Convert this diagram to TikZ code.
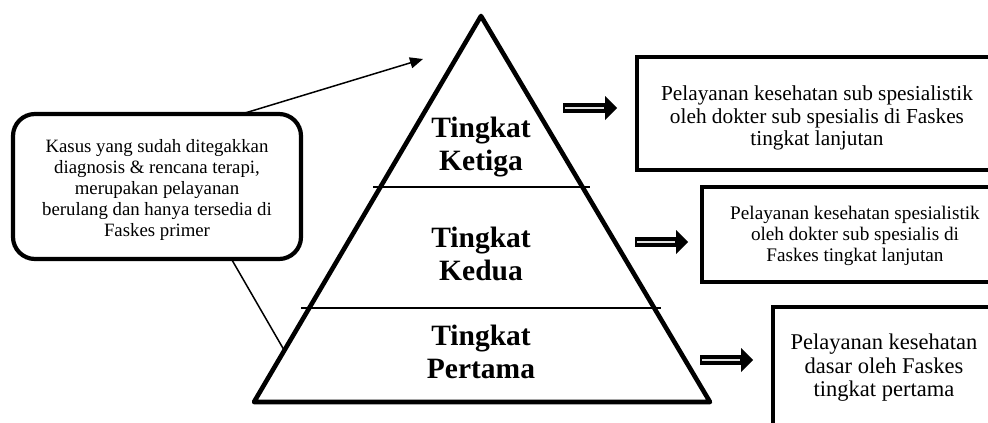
\documentclass[tikz,border=0pt]{standalone}
\usepackage{fontspec}
\setmainfont{Liberation Serif}
\usetikzlibrary{calc,arrows.meta}
\tikzset{
  thickline/.style={line width=4.6pt, line join=round},
  divider/.style={line width=1.6pt},
  tierlabel/.style={font=\fontsize{29.5}{33}\selectfont\bfseries, align=center, inner sep=0pt},
  boxtext/.style={align=center, inner sep=0pt},
  callbox/.style={draw, line width=4.2pt, rounded corners=22pt, minimum width=288pt, minimum height=145pt, inner sep=0pt},
  thinarrow/.style={line width=1.5pt, -{Triangle[length=13pt, width=11pt]}},
  thinline/.style={line width=1.5pt},
}
\newcommand{\fatarrow}[2]{%
  \fill ($(#1)+(0,-4.8)$) rectangle ($(#2)+(-12,4.8)$);
  \fill ($(#2)+(-12,-12)$) -- (#2) -- ($(#2)+(-12,12)$) -- cycle;
  \draw[white!75!gray, line width=1.1pt] ($(#1)+(2,0)$) -- ($(#2)+(-13,0)$);
}
\begin{document}
\begin{tikzpicture}[x=1pt, y=-1pt]
\useasboundingbox (0,0) rectangle (988,423);
\clip (0,0) rectangle (988,423);
\fill[white] (0,0) rectangle (988,423);

% pyramid
\coordinate (apex) at (481,16);
\coordinate (bl) at (254,402);
\coordinate (br) at (710,402);
\draw[thickline] (apex) -- (bl) -- (br) -- cycle;
\draw[divider] (373,187) -- (590,187);
\draw[divider] (301,308) -- (661,308);

\node[tierlabel] (t3) at (481,147) {Tingkat\\Ketiga};
\node[tierlabel] (t2) at (481,254) {Tingkat\\Kedua};
\node[tierlabel] (t1) at (481,352) {Tingkat\\Pertama};

% callout
\node[callbox] (call) at (157,186.5) {};
\node[boxtext, font=\fontsize{18.8}{21}\selectfont] (calltext) at (157,190) {Kasus yang sudah ditegakkan\\diagnosis \& rencana terapi,\\merupakan pelayanan\\berulang dan hanya tersedia di\\Faskes primer};
\coordinate (ctop) at (245,113);
\coordinate (cbot) at (232,260);
\coordinate (atip) at (423,59);
\coordinate (pedge) at (284,350);
\draw[thinarrow] (ctop) -- (atip);
\draw[thinline] (cbot) -- (pedge);

% right boxes
\draw[line width=4.5pt] (1000,57) -- (637,57) -- (637,170) -- (1000,170);
\node[boxtext, font=\fontsize{21.3}{22.8}\selectfont] (b1) at (817,118) {Pelayanan kesehatan sub spesialistik\\oleh dokter sub spesialis di Faskes\\tingkat lanjutan};

\draw[line width=4.5pt] (1000,187) -- (702,187) -- (702,282) -- (1000,282);
\node[boxtext, font=\fontsize{19.2}{21}\selectfont] (b2) at (855,236) {Pelayanan kesehatan spesialistik\\oleh dokter sub spesialis di\\Faskes tingkat lanjutan};

\draw[line width=4.5pt] (1000,307) -- (773,307) -- (773,440);
\node[boxtext, font=\fontsize{22.5}{23.5}\selectfont] (b3) at (884,368) {Pelayanan kesehatan\\dasar oleh Faskes\\tingkat pertama};

% fat arrows
\coordinate (f1s) at (563,108); \coordinate (f1e) at (617,108);
\coordinate (f2s) at (635,242); \coordinate (f2e) at (688,242);
\coordinate (f3s) at (700,360); \coordinate (f3e) at (753,360);
\fatarrow{f1s}{f1e}
\fatarrow{f2s}{f2e}
\fatarrow{f3s}{f3e}
\end{tikzpicture}
\end{document}
